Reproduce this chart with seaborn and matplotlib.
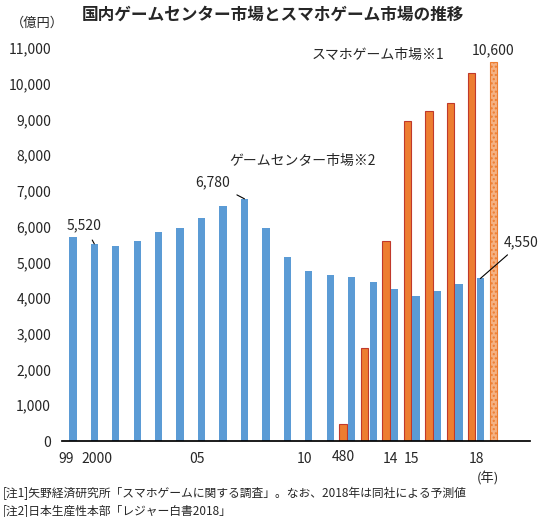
import matplotlib
matplotlib.use("Agg")
import matplotlib.pyplot as plt
import seaborn as sns
import pandas as pd

sns.set_theme(style="white")
plt.rcParams['font.family'] = ['Noto Sans CJK JP', 'DejaVu Sans']

slots = [str(i) for i in range(21)]
arcade = [5700, 5520, 5450, 5600, 5850, 5950, 6250, 6580, 6780, 5950,
          5150, 4750, 4650, 4600, 4450, 4250, 4050, 4200, 4400, 4550]
mobile_start = 13
mobile = [480, 2600, 5600, 8950, 9250, 9450, 10300, 10600]
tick_pos = [-0.1, 1.3, 6, 11, 15, 16, 19]
tick_labels = ["99", "2000", "05", "10", "14", "15", "18"]

rows = []
for i, s in enumerate(slots):
    m = mobile[i - mobile_start] if mobile_start <= i < mobile_start + len(mobile) else 0
    a = arcade[i] if i < len(arcade) else 0
    rows.append({"slot": s, "series": "mobile", "value": m})
    rows.append({"slot": s, "series": "arcade", "value": a})
df = pd.DataFrame(rows)

fig = plt.figure(figsize=(5.45, 5.17), dpi=100)
ax = fig.add_axes([0.114, 0.147, 0.858, 0.76])
sns.barplot(data=df, x="slot", y="value", hue="series", hue_order=["mobile", "arcade"],
            palette={"mobile": "#ED7D31", "arcade": "#5B9BD5"}, width=0.8, ax=ax,
            legend=False, order=slots, saturation=1)

for p in ax.patches:
    if p.get_height() <= 0:
        continue
    c = p.get_x() + p.get_width() / 2
    p.set_width(0.34)
    p.set_x(c - 0.17)
    fc = p.get_facecolor()
    if fc[0] > 0.8:  # orange
        p.set_edgecolor("#C0392B")
        p.set_linewidth(0.8)
        if p.get_height() == mobile[-1]:
            p.set_facecolor("#F4B183")
            p.set_edgecolor("#ED7D31")
            p.set_hatch("....")
    else:
        p.set_linewidth(0)

ax.set_xlim(-0.3, 21.5)
ax.set_ylim(0, 11000)
ax.set_yticks(range(0, 11001, 1000))
ax.set_yticklabels([f"{v:,}" for v in range(0, 11001, 1000)], fontsize=10)
ax.set_xticks(tick_pos)
ax.set_xticklabels(tick_labels, fontsize=10)
ax.set_xlabel(""); ax.set_ylabel("")
for s in ["top", "right", "left"]:
    ax.spines[s].set_visible(False)
ax.spines["bottom"].set_color("black")
ax.tick_params(axis="both", length=0, pad=8)

fig.text(0.5, 0.972, "国内ゲームセンター市場とスマホゲーム市場の推移", ha="center", va="center",
         fontsize=12, fontweight="bold")
fig.text(0.02, 0.955, "（億円）", fontsize=9.5, va="center")
fig.text(0.875, 0.075, "(年)", fontsize=9.5, va="center")
fig.text(0.005, 0.045, "[注1]矢野経済研究所「スマホゲームに関する調査」。なお、2018年は同社による予測値",
         fontsize=8.5, va="center")
fig.text(0.005, 0.012, "[注2]日本生産性本部「レジャー白書2018」", fontsize=8.5, va="center")

ax.text(14.4, 10600, "スマホゲーム市場※1", fontsize=10, ha="center", va="bottom")
ax.text(10.9, 7650, "ゲームセンター市場※2", fontsize=10, ha="center", va="bottom")
ax.text(19.8, 10750, "10,600", fontsize=10, ha="center", va="bottom")
ax.annotate("6,780", xy=(8.2, 6780), xytext=(6.7, 7250), fontsize=10, ha="center", va="center",
            arrowprops=dict(arrowstyle="-", color="black", lw=0.8, shrinkA=4, shrinkB=0))
ax.annotate("5,520", xy=(1.2, 5520), xytext=(-0.1, 6050), fontsize=10, ha="left", va="center",
            arrowprops=dict(arrowstyle="-", color="black", lw=0.8, shrinkA=4, shrinkB=0))
ax.annotate("4,550", xy=(19.2, 4550), xytext=(20.3, 5550), fontsize=10, ha="left", va="center",
            arrowprops=dict(arrowstyle="-", color="black", lw=0.8, shrinkA=2, shrinkB=0))
ax.annotate("480", xy=(12.8, 0), xytext=(12.8, -450), fontsize=10, ha="center", va="center",
            annotation_clip=False)

fig.savefig("out.png", dpi=100)
